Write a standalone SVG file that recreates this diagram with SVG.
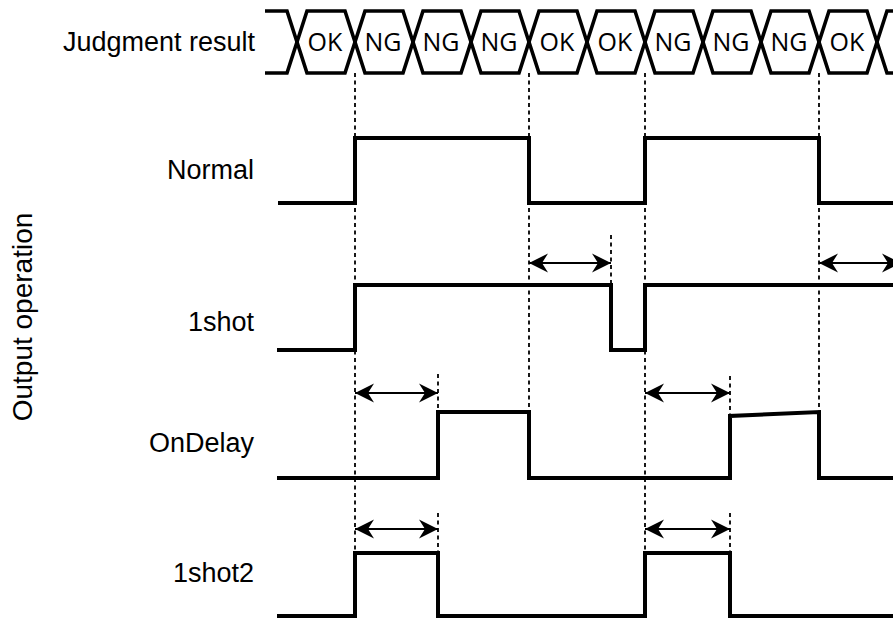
<svg xmlns="http://www.w3.org/2000/svg" width="893" height="620" viewBox="0 0 893 620">
<style>
.lbl{font-family:"Liberation Sans",Arial,sans-serif;font-size:27px;fill:#000}
.bus{font-family:"Open Sans","Noto Sans",sans-serif;font-size:25px;fill:#000;text-anchor:middle}
.wave{fill:none;stroke:#000;stroke-width:4;stroke-linejoin:miter}
.hex{fill:none;stroke:#000;stroke-width:3.6;stroke-linejoin:miter}
.dash{fill:none;stroke:#000;stroke-width:1.8;stroke-dasharray:4 3.5}
.arr{fill:none;stroke:#000;stroke-width:1.8;marker-start:url(#ah);marker-end:url(#ah)}
</style>
<defs>
<marker id="ah" viewBox="-21 -11 22 22" refX="0" refY="0" markerWidth="22" markerHeight="22" markerUnits="userSpaceOnUse" orient="auto-start-reverse">
<path d="M0,0 L-19,-9.5 L-13,0 L-19,9.5 Z" fill="#000"/>
</marker>
</defs>
<rect width="893" height="620" fill="#fff"/>

<g id="connectors">
<line class="dash" x1="355" y1="73" x2="355" y2="617"/>
<line class="dash" x1="529" y1="73" x2="529" y2="478"/>
<line class="dash" x1="645" y1="73" x2="645" y2="617"/>
<line class="dash" x1="819" y1="73" x2="819" y2="478"/>
<line class="dash" x1="611" y1="235" x2="611" y2="350"/>
<line class="dash" x1="438" y1="374" x2="438" y2="412"/>
<line class="dash" x1="730" y1="376" x2="730" y2="416"/>
<line class="dash" x1="438" y1="513" x2="438" y2="553"/>
<line class="dash" x1="730" y1="513" x2="730" y2="553"/>
<line class="arr" x1="529" y1="263" x2="611" y2="263"/>
<line class="arr" x1="819" y1="263" x2="901" y2="263"/>
<line class="arr" x1="355" y1="393" x2="438" y2="393"/>
<line class="arr" x1="645" y1="393" x2="730" y2="393"/>
<line class="arr" x1="355" y1="529" x2="438" y2="529"/>
<line class="arr" x1="645" y1="529" x2="730" y2="529"/>
</g>

<g id="judgment">
<text class="lbl" x="255" y="51" text-anchor="end">Judgment result</text>
<path class="hex" d="M265,11 H287 L307,73 H345 L365,11 H403 L423,73 H461 L481,11 H519 L539,73 H577 L597,11 H635 L655,73 H693 L713,11 H751 L771,73 H809 L829,11 H867 L887,73 H893"/>
<path class="hex" d="M265,73 H287 L307,11 H345 L365,73 H403 L423,11 H461 L481,73 H519 L539,11 H577 L597,73 H635 L655,11 H693 L713,73 H751 L771,11 H809 L829,73 H867 L887,11 H893"/>
<text class="bus" x="325" y="51">OK</text>
<text class="bus" x="383" y="51">NG</text>
<text class="bus" x="441" y="51">NG</text>
<text class="bus" x="499" y="51">NG</text>
<text class="bus" x="557" y="51">OK</text>
<text class="bus" x="615" y="51">OK</text>
<text class="bus" x="673" y="51">NG</text>
<text class="bus" x="731" y="51">NG</text>
<text class="bus" x="789" y="51">NG</text>
<text class="bus" x="847" y="51">OK</text>
</g>

<g id="output-operation">
<text class="lbl" transform="translate(32,317) rotate(-90)" text-anchor="middle" style="font-size:28px">Output operation</text>
</g>

<g id="normal">
<text class="lbl" x="254" y="179" text-anchor="end">Normal</text>
<path class="wave" d="M278,203 H355 V138 H529 V203 H645 V138 H819 V203 H893"/>
</g>

<g id="oneshot">
<text class="lbl" x="254" y="331" text-anchor="end">1shot</text>
<path class="wave" d="M277,350 H355 V285 H611 V350 H645 V285 H893"/>
</g>

<g id="ondelay">
<text class="lbl" x="254" y="452" text-anchor="end">OnDelay</text>
<path class="wave" d="M277,478 H438 V412 H529 V478 H730 V416 L819,412 V478 H893"/>
</g>

<g id="oneshot2">
<text class="lbl" x="254" y="582" text-anchor="end">1shot2</text>
<path class="wave" d="M277,616 H355 V553 H438 V616 H645 V553 H730 V616 H893"/>
</g>
</svg>
